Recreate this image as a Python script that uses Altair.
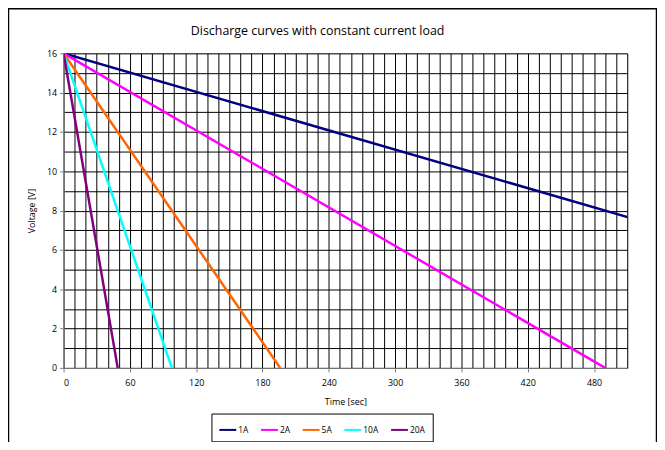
import altair as alt
import pandas as pd

# Series data
series = ["1A", "2A", "5A", "10A", "20A"]
colors = ["#000080", "#FF00FF", "#FF6600", "#00FFFF", "#800080"]
start_voltage = [16, 16, 16, 16, 16]
start_time = [0, 0, 0, 0, 0]
end_time = [980, 490, 196, 98, 49]   # time (sec) at which voltage reaches 0
end_voltage = [0, 0, 0, 0, 0]

title_text = "Discharge curves with constant current load"
x_grid = list(range(0, 511, 10))
y_grid = list(range(0, 17, 1))

rows = []
for i, s in enumerate(series):
    rows.append({"series": s, "t": start_time[i], "v": start_voltage[i]})
    rows.append({"series": s, "t": end_time[i], "v": end_voltage[i]})
df = pd.DataFrame(rows)

FONT = "Open Sans"

x_axis = alt.Axis(
    values=x_grid,
    grid=True, gridColor="#000000", gridWidth=1, gridOpacity=1,
    labelExpr="datum.value % 60 === 0 ? datum.label : ''",
    labelOverlap=False,
    tickOpacity={"condition": {"test": "datum.value % 60 === 0", "value": 1}, "value": 0},
    tickSize=4, tickColor="#808080",
    domainColor="#808080",
    labelFontSize=9, labelFont=FONT, labelColor="#000000", labelPadding=7,
    title="Time [sec]", titleFontSize=9, titleFont=FONT, titleFontWeight="normal",
    titleColor="#000000", titlePadding=10,
)
y_axis = alt.Axis(
    values=y_grid,
    grid=True, gridColor="#000000", gridWidth=1, gridOpacity=1,
    labelExpr="datum.value % 2 === 0 ? datum.label : ''",
    labelOverlap=False,
    tickOpacity={"condition": {"test": "datum.value % 2 === 0", "value": 1}, "value": 0},
    tickSize=4, tickColor="#808080",
    domainColor="#808080",
    labelFontSize=9, labelFont=FONT, labelColor="#000000", labelPadding=3,
    title="Voltage [V]", titleFontSize=9, titleFont=FONT, titleFontWeight="normal",
    titleColor="#000000", titlePadding=10,
)

lines = alt.Chart(df).mark_line(strokeWidth=2.5, clip=True).encode(
    x=alt.X("t:Q", scale=alt.Scale(domain=[0, 510], nice=False, zero=False), axis=x_axis),
    y=alt.Y("v:Q", scale=alt.Scale(domain=[0, 16], nice=False), axis=y_axis),
    color=alt.Color(
        "series:N",
        scale=alt.Scale(domain=series, range=colors),
        sort=series,
        legend=alt.Legend(
            title=None, orient="none", direction="horizontal",
            legendX=149, legendY=363,
            strokeColor="#000000", fillColor="#FFFFFF", padding=7,
            symbolType="stroke", symbolSize=289, symbolStrokeWidth=2,
            labelFontSize=8.5, labelFont=FONT, labelColor="#000000",
            columnPadding=8, labelOffset=1,
        ),
    ),
    detail="series:N",
)

decor = pd.DataFrame({"title": [title_text]})

frame = alt.Chart(decor).mark_rect(
    fill=None, stroke="#000000", strokeWidth=1.5, clip=False
).encode(
    x=alt.value(-55.5), x2=alt.value(597.5), y=alt.value(-45), y2=alt.value(420)
)

title = alt.Chart(decor).mark_text(
    font=FONT, fontSize=12.5, color="#000000", align="center", baseline="alphabetic"
).encode(
    x=alt.value(256), y=alt.value(-18), text="title:N"
)

chart = alt.layer(frame, title, lines).properties(
    width=568, height=317,
    padding={"left": 56, "top": 44, "right": 30, "bottom": 73},
    autosize=alt.AutoSizeParams(type="none"),
).configure_view(
    stroke="#808080", strokeWidth=1.5, fill="#FFFFFF"
).configure(background="#FFFFFF")

chart.save("out.html", embed_options={"renderer": "svg", "actions": False})
